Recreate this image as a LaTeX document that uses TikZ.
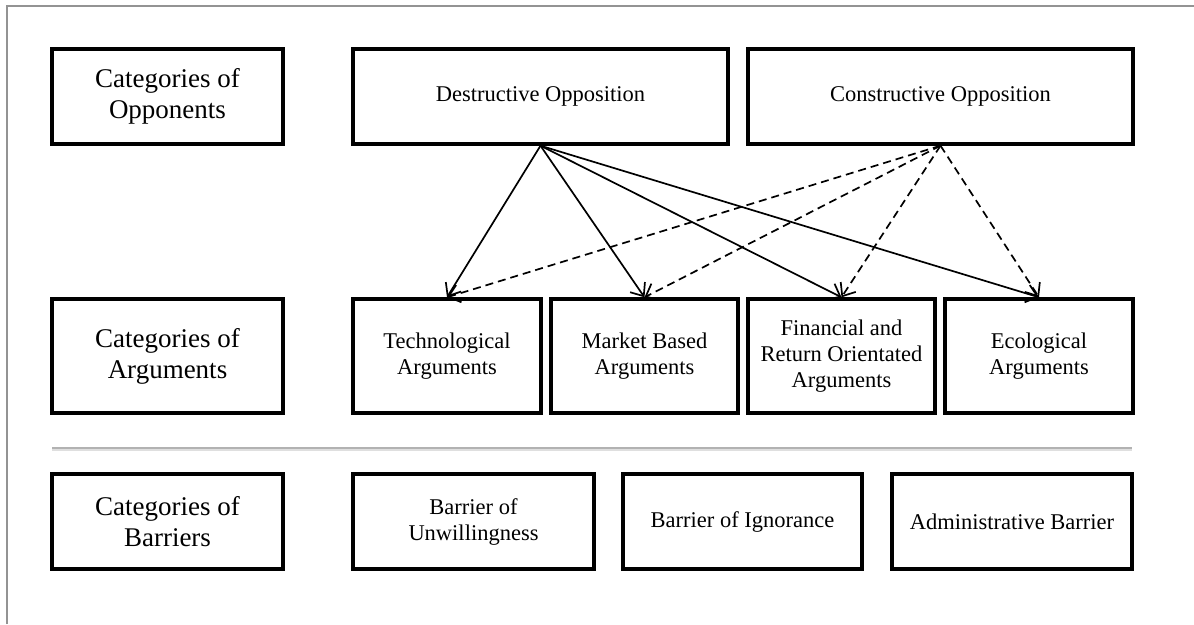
\documentclass[tikz,border=0pt]{standalone}
\usepackage{fontspec}
\setmainfont{Liberation Serif}
\usetikzlibrary{arrows.meta,positioning}

\tikzset{
  box/.style={draw, line width=3.4pt, inner sep=0pt, align=center,
    font=\fontsize{22.5}{26}\selectfont},
  catbox/.style={box, minimum width=231pt, font=\fontsize{27}{31}\selectfont},
  link/.style={line width=1.7pt, -{Straight Barb[length=11pt,width=18pt,line width=1.7pt]}},
  dlink/.style={link, dash pattern=on 8pt off 5pt}
}

\begin{document}
\begin{tikzpicture}[x=1pt,y=-1pt]
    \useasboundingbox (0,0) rectangle (1194,624);
    % frame
    \draw[gray!85, line width=1.6pt] (7,624) -- (7,6) -- (1194,6);

    % opponents
    \node[catbox, minimum height=95pt] (opp) at (167.5,96.5) {Categories of\\Opponents};
    \node[box, minimum width=375pt, minimum height=95pt] (destr) at (540.5,96.5) {Destructive Opposition};
    \node[box, minimum width=385pt, minimum height=95pt] (constr) at (940.5,96.5) {Constructive Opposition};

    % arguments
    \node[catbox, minimum height=114pt] (argcat) at (167.5,356) {Categories of\\Arguments};
    \node[box, minimum width=188pt, minimum height=114pt] (tech) at (447,356) {Technological\\Arguments};
    \node[box, minimum width=187pt, minimum height=114pt] (market) at (644.5,356) {Market Based\\Arguments};
    \node[box, minimum width=187pt, minimum height=114pt] (fin) at (841.5,356) {Financial and\\Return Orientated\\Arguments};
    \node[box, minimum width=188pt, minimum height=114pt] (eco) at (1039,356) {Ecological\\Arguments};

    % separator
    \coordinate (sepl) at (52,448);
    \coordinate (sepr) at (1132,448);
    \draw[gray!25, line width=2pt] ([yshift=-1.5pt]sepl) -- ([yshift=-1.5pt]sepr);
    \draw[gray!60, line width=2pt] (sepl) -- (sepr);

    % barriers
    \node[catbox, minimum height=95pt] (barcat) at (167.5,521.5) {Categories of\\Barriers};
    \node[box, minimum width=241pt, minimum height=95pt] (unwill) at (473.5,521.5) {Barrier of\\Unwillingness};
    \node[box, minimum width=239pt, minimum height=95pt] (ignor) at (742.5,521.5) {Barrier of Ignorance};
    \node[box, minimum width=240pt, minimum height=95pt] (admin) at (1012,521.5) {Administrative Barrier};

    % links
    \foreach \t in {tech,market,fin,eco} {
        \draw[link] (destr.south) -- (\t.north);
        \draw[dlink] (constr.south) -- (\t.north);
    }
\end{tikzpicture}
\end{document}
